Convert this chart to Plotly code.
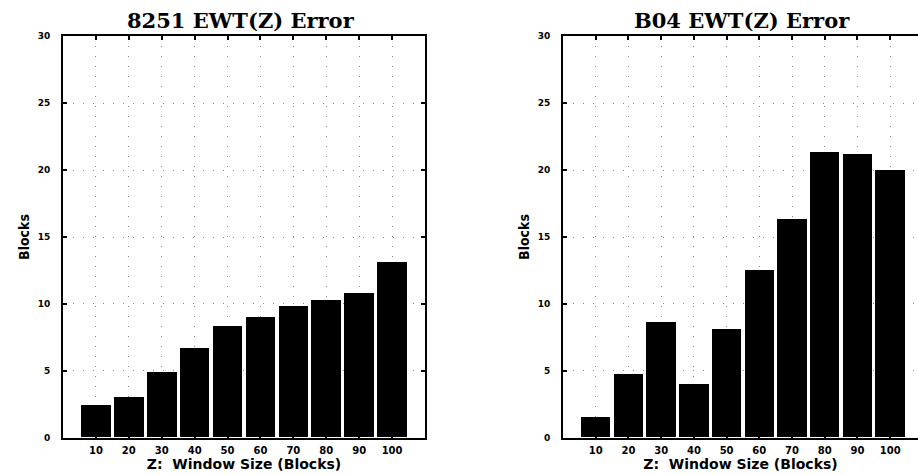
import plotly.graph_objects as go

window_sizes = [10, 20, 30, 40, 50, 60, 70, 80, 90, 100]
err_8251 = [2.4, 3.0, 4.9, 6.7, 8.3, 9.0, 9.8, 10.3, 10.8, 13.1]
err_b04 = [1.5, 4.7, 8.6, 4.0, 8.1, 12.5, 16.3, 21.3, 21.2, 20.0]
y_ticks = [0, 5, 10, 15, 20, 25, 30]
titles = ["8251 EWT(Z) Error", "B04 EWT(Z) Error"]
x_title = "Z:  Window Size (Blocks)"
y_title = "Blocks"

W, H = 918, 475
fig = go.Figure()
fig.add_trace(go.Bar(x=window_sizes, y=err_8251, width=9, marker=dict(color="black", line=dict(width=0)),
                     xaxis="x", yaxis="y", showlegend=False))
fig.add_trace(go.Bar(x=window_sizes, y=err_b04, width=9, marker=dict(color="black", line=dict(width=0)),
                     xaxis="x2", yaxis="y2", showlegend=False))

wide = "DejaVu Sans, Verdana, sans-serif"
ytop, ybot = 1 - 32 / H, 1 - 442 / H
grid = dict(showgrid=True, gridcolor="#8c8c8c", griddash="1px,9px", gridwidth=1)

def xax(domain, rng, anchor):
    return dict(domain=domain, range=rng, anchor=anchor, tickvals=window_sizes,
                ticktext=[f"<b>{v}</b>" for v in window_sizes],
                tickfont=dict(family=wide, size=10, color="black"),
                ticklabelstandoff=2,
                showline=True, linecolor="black", linewidth=2, mirror="ticks",
                ticks="inside", ticklen=4, tickcolor="black", tickwidth=1.5,
                zeroline=False, fixedrange=True, **grid,
                title=dict(text=f"<b>{x_title}</b>", font=dict(family=wide, size=14, color="black"), standoff=0))

def yax(anchor, mirror):
    return dict(domain=[ybot, ytop], range=[0, 30], anchor=anchor, tickvals=y_ticks,
                ticktext=[f"<b>{v}</b>" for v in y_ticks],
                tickfont=dict(family=wide, size=9, color="black"),
                ticklabelstandoff=9,
                showline=True, linecolor="black", linewidth=2, mirror=mirror,
                ticks="inside", ticklen=4, tickcolor="black", tickwidth=1.5,
                zeroline=False, fixedrange=True, **grid,
                title=dict(text=f"<b>{y_title}</b>",
                           font=dict(family="DejaVu Sans Condensed, Liberation Sans Narrow, Liberation Sans", size=14, color="black"),
                           standoff=5))

fig.update_layout(
    width=W, height=H, margin=dict(l=0, r=0, t=0, b=0),
    paper_bgcolor="white", plot_bgcolor="white", bargap=0,
    xaxis=xax([63 / W, 425 / W], [0, 110], "y"),
    yaxis=yax("x", "ticks"),
    xaxis2=xax([563 / W, 1.0], [0, 108.5], "y2"),
    yaxis2=yax("x2", False),
    annotations=[
        dict(text=f"<b>{titles[0]}</b>", x=241 / W, y=1 - 16 / H, xref="paper", yref="paper",
             xanchor="center", yanchor="middle",
             showarrow=False, font=dict(family="DejaVu Serif, Liberation Serif", size=21, color="black")),
        dict(text=f"<b>{titles[1]}</b>", x=742 / W, y=1 - 16 / H, xref="paper", yref="paper",
             xanchor="center", yanchor="middle",
             showarrow=False, font=dict(family="DejaVu Serif, Liberation Serif", size=21, color="black")),
    ],
)
fig.write_html("out.html")
